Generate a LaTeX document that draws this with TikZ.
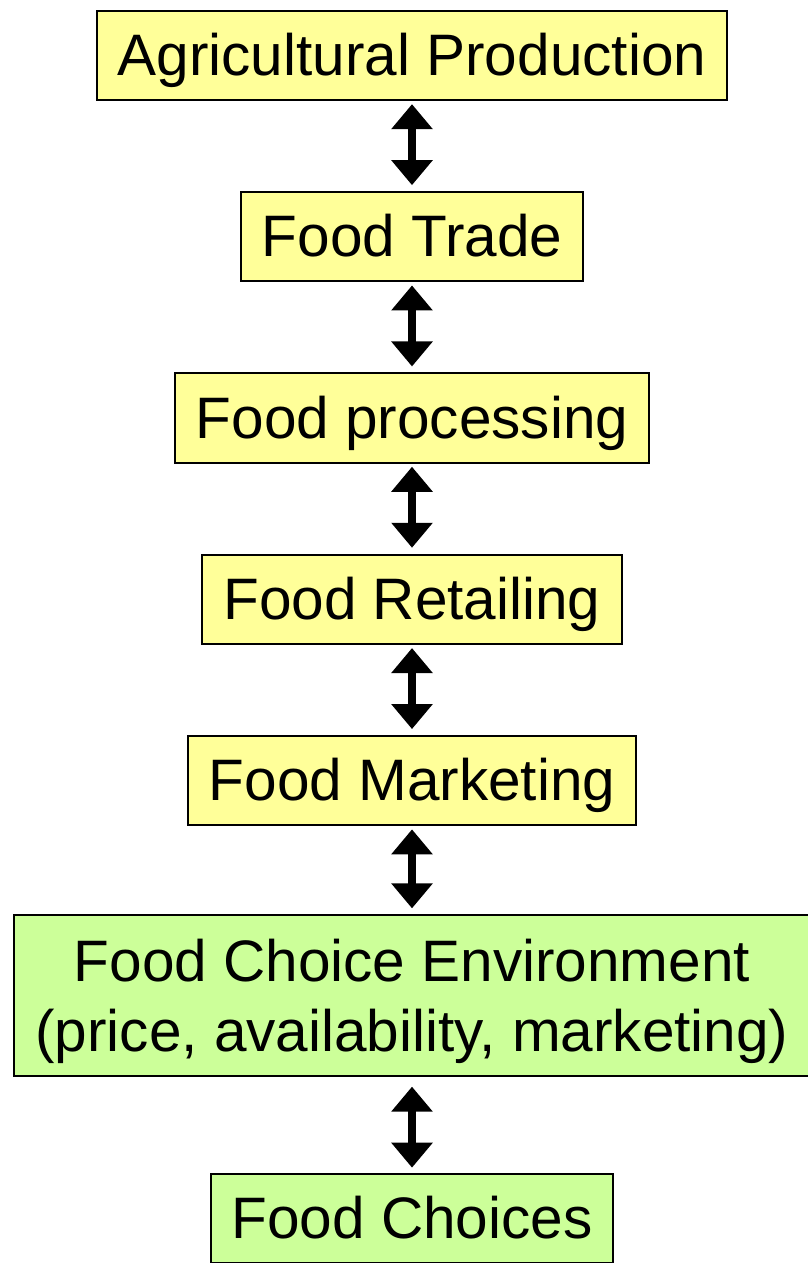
\documentclass[tikz,border=0pt]{standalone}
\usepackage{fontspec}
\setmainfont{Liberation Sans}
\usetikzlibrary{positioning,arrows.meta}
\definecolor{stageyellow}{HTML}{FFFF99}
\definecolor{stagegreen}{HTML}{CCFF99}
\begin{document}
\begin{tikzpicture}
    [
      x = 1pt, y = 1pt,
      node distance = 90pt,
      stage/.style = {draw, line width = 2pt, fill = stageyellow,
          font = \fontsize{58.5}{70}\selectfont, align = center,
          text height = 52.5pt, text depth = 12.3pt,
          inner xsep = 21pt, inner ysep = 12.25pt},
      greenstage/.style = {stage, fill = stagegreen},
      biarrow/.style = {line width = 8pt,
          {Triangle[width = 40pt, length = 25pt]}-{Triangle[width = 40pt, length = 25pt]},
          shorten < = 3pt, shorten > = 6pt},
    ]

    \useasboundingbox (0,0) rectangle (808,-1263);

    \node[stage] (agri) at (412,-55.5) {Agricultural Production};
    \node[stage, below = of agri] (trade) {Food Trade};
    \node[stage, below = of trade] (processing) {Food processing};
    \node[stage, below = of processing] (retail) {Food Retailing};
    \node[stage, below = of retail] (marketing) {Food Marketing};
    \node[greenstage, text height = 123.5pt, below = 88pt of marketing] (environment)
        {Food Choice Environment\\(price, availability, marketing)};
    \node[greenstage, below = 96pt of environment] (choices) {Food Choices};

    \draw[biarrow] (agri) -- (trade);
    \draw[biarrow] (trade) -- (processing);
    \draw[biarrow] (processing) -- (retail);
    \draw[biarrow] (retail) -- (marketing);
    \draw[biarrow] (marketing) -- (environment);
    \draw[biarrow, shorten < = 10pt, shorten > = 5pt] (environment) -- (choices);

  \end{tikzpicture}
\end{document}
